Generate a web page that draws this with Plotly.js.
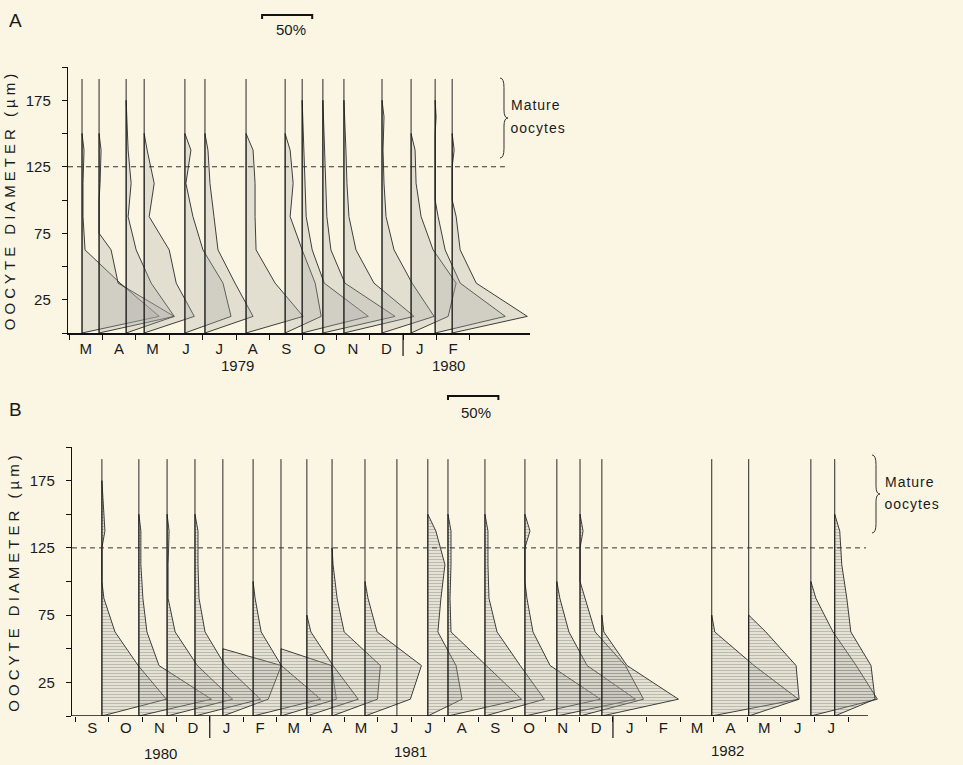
<!DOCTYPE html>
<html>
<head>
<meta charset="utf-8">
<script src="https://cdn.plot.ly/plotly-3.0.1.min.js"></script>
<style>
  html, body { margin: 0; padding: 0; background: #fbf6e4; }
  #chart { width: 963px; height: 765px; }
</style>
</head>
<body>
<div id="chart"></div>
<script>
// ---------------- DATA ----------------
// Oocyte size classes (25 µm wide), class mid-points in µm
const CLASS_MID = [12.5, 37.5, 62.5, 87.5, 112.5, 137.5, 162.5, 187.5];
const HALF_CLASS = 12.5;
const MATURE_DIAM = 125;          // boundary of "mature oocytes"
const SCALE_BAR_PCT = 50;         // scale bar: 50 %

// Panel A: March 1979 – February 1980 (x = months since 1 March 1979)
const monthLabelsA = ['M','A','M','J','J','A','S','O','N','D','J','F'];
const yearLabelsA = ['1979', '1980'];
const sampleMonthA = [0.39, 0.90, 1.71, 2.25, 3.47, 4.07, 5.30, 6.47, 6.98, 7.60, 8.23, 9.37, 10.24, 10.96, 11.47];
// percent frequency in each size class (12.5 … 187.5 µm)
const pctA = [
  [77, 38,  3,  1,  1,  2, 0, 0],
  [75, 19, 12,  0,  1,  2, 0, 0],
  [48, 25, 10,  2,  5,  2, 1, 0],
  [50, 32, 25,  5, 10,  3, 0, 0],
  [46, 38, 18,  8,  1,  6, 0, 0],
  [48, 30, 13,  9,  5,  3, 0, 0],
  [57, 29, 10,  9,  9,  7, 0, 0],
  [36, 30, 17,  5,  8,  5, 0, 0],
  [66, 22, 10,  4,  3,  2, 1, 0],
  [72, 22,  8,  4,  3,  2, 1, 0],
  [70, 30, 12,  5,  3,  2, 1, 0],
  [52, 30, 12,  4,  2,  1, 2, 0],
  [37, 45, 22, 10,  5,  4, 0, 0],
  [70, 25, 10,  3,  0,  0, 1, 0],
  [75, 24,  8,  4,  0,  2, 0, 0]
];

// Panel B: September 1980 – July 1982 (x = months since 1 September 1980)
const monthLabelsB = ['S','O','N','D','J','F','M','A','M','J','J','A','S','O','N','D','J','F','M','A','M','J','J'];
const yearLabelsB = ['1980', '1981', '1982'];
const sampleMonthB = [0.79, 1.89, 2.73, 3.56, 4.39, 5.29, 6.12, 6.89, 7.64, 8.62, 9.57, 10.49, 11.09, 12.19, 13.38, 14.33, 15.02, 15.67, 18.94, 20.04, 21.89, 22.60];
const pctB = [
  [64, 36, 13,  2,  0,  3, 1, 0],
  [72, 20,  8,  4,  2,  2, 0, 0],
  [65, 30,  8,  1,  1,  2, 0, 0],
  [65, 30, 10,  4,  3,  3, 0, 0],
  [45, 58,  0,  0,  0,  0, 0, 0],
  [67, 28,  8,  2,  0,  0, 0, 0],
  [55, 50,  0,  0,  0,  0, 0, 0],
  [51, 26,  4,  0,  0,  0, 0, 0],
  [45, 48, 12,  5,  1,  0, 0, 0],
  [45, 56, 12,  3,  0,  0, 0, 0],
  [ 0,  0,  0,  0,  0,  0, 0, 0],
  [34, 28, 10, 13, 17,  8, 0, 0],
  [73, 38,  3,  2,  3,  3, 0, 0],
  [59, 35, 12,  4,  3,  3, 0, 0],
  [75, 25,  8,  2,  0,  5, 0, 0],
  [78, 30, 12,  3,  0,  0, 0, 0],
  [63, 45, 15,  5,  0,  3, 0, 0],
  [76, 25,  2,  0,  0,  0, 0, 0],
  [86, 42,  3,  0,  0,  0, 0, 0],
  [50, 47, 17,  0,  0,  0, 0, 0],
  [66, 45, 22,  5,  0,  0, 0, 0],
  [40, 36, 16, 12,  7,  5, 0, 0]
];

// ---------------- STYLE / SCALES ----------------
const BG = '#fbf6e4';
const INK = '#1a1a1a';
const FONT = 'Liberation Sans, Arial, Helvetica, sans-serif';
const PCT_TO_MONTH = 0.03;   // 50 % drawn as 1.5 month widths (scale bar)
const LINE_TOP = 191;        // top of each sample's vertical line (µm)
const W = 963, H = 765;
const px = v => v / W;
const py = v => 1 - v / H;

// ---------------- TRACES ----------------
function kite(t, pcts, xa, ya, panelB) {
  let last = pcts.length - 1;
  while (last >= 0 && pcts[last] === 0) last--;
  if (last < 0) return null;
  const xs = [t], ys = [0];
  for (let i = 0; i <= last; i++) {
    const v = pcts[i], mid = CLASS_MID[i];
    if (v > 0) { xs.push(t + v * PCT_TO_MONTH); ys.push(mid); }
    else {
      if (i > 0 && pcts[i - 1] > 0) { xs.push(t); ys.push(mid - HALF_CLASS); }
      if (i < last && pcts[i + 1] > 0) { xs.push(t); ys.push(mid + HALF_CLASS); }
    }
  }
  xs.push(t); ys.push(CLASS_MID[last] + HALF_CLASS);
  xs.push(t); ys.push(0);
  const tr = {
    type: 'scatter', mode: 'lines', x: xs, y: ys, xaxis: xa, yaxis: ya,
    fill: 'toself', fillcolor: 'rgba(170,170,165,0.30)',
    line: { color: '#2a2a2a', width: 0.9 }, hoverinfo: 'skip'
  };
  if (panelB) {
    tr.fillpattern = { shape: '-', fgcolor: '#6a6a6a', fgopacity: 0.5, bgcolor: 'rgba(170,170,165,0.28)', size: 3, solidity: 0.22 };
  }
  return tr;
}

function sampleLines(months, xa, ya) {
  const xs = [], ys = [];
  months.forEach(t => { xs.push(t, t, null); ys.push(0, LINE_TOP, null); });
  return { type: 'scatter', mode: 'lines', x: xs, y: ys, xaxis: xa, yaxis: ya,
           line: { color: '#111', width: 0.9 }, hoverinfo: 'skip' };
}

const traces = [];
sampleMonthA.forEach((t, i) => { const k = kite(t, pctA[i], 'x', 'y', false); if (k) traces.push(k); });
traces.push(sampleLines(sampleMonthA, 'x', 'y'));
sampleMonthB.forEach((t, i) => { const k = kite(t, pctB[i], 'x2', 'y2', true); if (k) traces.push(k); });
traces.push(sampleLines(sampleMonthB, 'x2', 'y2'));

// ---------------- AXES ----------------
function monthAxis(labels, domain, range, anchor, showLine) {
  return {
    domain: domain, range: range, anchor: anchor,
    showline: showLine, linecolor: '#111', linewidth: 1.6, zeroline: false, showgrid: false,
    tickmode: 'array', tickvals: labels.map((_, i) => i + 0.5), ticktext: labels,
    ticks: '', ticklabelstandoff: 1,
    tickfont: { family: FONT, size: 15, color: INK },
    minor: { ticks: 'outside', ticklen: 5, tickwidth: 1, tickcolor: '#111',
             tickmode: 'array', tickvals: labels.map((_, i) => i).concat([labels.length]), showgrid: false }
  };
}
function diamAxis(domain, anchor) {
  return {
    domain: domain, range: [0, 200], anchor: anchor,
    showline: true, linecolor: '#111', linewidth: 1.2, zeroline: false, showgrid: false,
    tickmode: 'array', tickvals: [25, 75, 125, 175],
    ticks: 'outside', ticklen: 5, tickwidth: 1, tickcolor: '#111', ticklabelstandoff: 8,
    tickfont: { family: FONT, size: 15, color: INK },
    minor: { ticks: 'outside', ticklen: 5, tickwidth: 1, tickcolor: '#111', tick0: 0, dtick: 25, showgrid: false },
    title: { text: 'OOCYTE DIAMETER (µm)', font: { family: FONT, size: 15, color: INK }, standoff: 6 }
  };
}

// ---------------- DECORATIONS ----------------
function bracePath(xl, yt, yb, w) {
  const X = v => px(v).toFixed(5), Y = v => py(v).toFixed(5);
  const ym = (yt + yb) / 2, xm = xl + w / 2, xr = xl + w, h = yb - yt;
  return `M${X(xl)},${Y(yt)} Q${X(xm)},${Y(yt)} ${X(xm)},${Y(yt + h * 0.12)} ` +
         `L${X(xm)},${Y(ym - h * 0.1)} Q${X(xm)},${Y(ym)} ${X(xr)},${Y(ym)} ` +
         `Q${X(xm)},${Y(ym)} ${X(xm)},${Y(ym + h * 0.1)} L${X(xm)},${Y(yb - h * 0.12)} ` +
         `Q${X(xm)},${Y(yb)} ${X(xl)},${Y(yb)}`;
}
function scaleBar(xref, x0, yTop, yEnd) {
  const x1 = x0 + SCALE_BAR_PCT * PCT_TO_MONTH;
  return { type: 'path', xref: xref, yref: 'paper',
           path: `M${x0},${yEnd} L${x0},${yTop} L${x1},${yTop} L${x1},${yEnd}`,
           line: { color: '#111', width: 2 } };
}
const dashStyle = { color: '#333', width: 1, dash: '5px,4px' };
const B_END = 23.59;   // right end of panel B's month axis

const shapes = [
  { type: 'line', xref: 'x', yref: 'y', x0: -0.03, x1: 13.05, y0: MATURE_DIAM, y1: MATURE_DIAM, line: dashStyle },
  { type: 'line', xref: 'x2', yref: 'y2', x0: -0.1, x1: 23.53, y0: MATURE_DIAM, y1: MATURE_DIAM, line: dashStyle },
  // panel B baseline (axis shorter than the plotting area, so kites may overhang)
  { type: 'line', xref: 'x2', yref: 'y2', x0: -0.1, x1: B_END, y0: 0, y1: 0, line: { color: '#111', width: 1.6 } },
  // year dividers
  { type: 'line', xref: 'x', yref: 'paper', x0: 10, x1: 10, y0: py(333), y1: py(356), line: { color: '#111', width: 1.2 } },
  { type: 'line', xref: 'x2', yref: 'paper', x0: 4, x1: 4, y0: py(716), y1: py(738), line: { color: '#111', width: 1.2 } },
  { type: 'line', xref: 'x2', yref: 'paper', x0: 16, x1: 16, y0: py(716), y1: py(738), line: { color: '#111', width: 1.2 } },
  // scale bars
  scaleBar('x', 5.78, py(15), py(19)),
  scaleBar('x2', 11.09, py(396), py(400)),
  // braces
  { type: 'path', xref: 'paper', yref: 'paper', path: bracePath(500, 78, 158, 8), line: { color: '#333', width: 1 } },
  { type: 'path', xref: 'paper', yref: 'paper', path: bracePath(872, 455, 533, 8), line: { color: '#333', width: 1 } }
];

const txt = (text, x, y, xref, size, xanchor) => ({
  text: text, x: x, y: y, xref: xref, yref: 'paper', showarrow: false,
  xanchor: xanchor || 'center', yanchor: 'middle',
  font: { family: FONT, size: size || 15, color: INK }
});
const annotations = [
  txt('A', px(15), py(20), 'paper', 19),
  txt('B', px(15), py(409), 'paper', 19),
  txt('50%', 6.64, py(30), 'x', 15),
  txt('50%', 11.92, py(412), 'x2', 15),
  txt('Mature', px(512), py(105), 'paper', 14, 'left'),
  txt('oocytes', px(512), py(128), 'paper', 14, 'left'),
  txt('Mature', px(886), py(482), 'paper', 14, 'left'),
  txt('oocytes', px(886), py(504), 'paper', 14, 'left'),
  txt(yearLabelsA[0], 5.03, py(365), 'x', 15),
  txt(yearLabelsA[1], 11.35, py(365), 'x', 15),
  txt(yearLabelsB[0], 2.52, py(753), 'x2', 15),
  txt(yearLabelsB[1], 9.96, py(751), 'x2', 15),
  txt(yearLabelsB[2], 19.4, py(750), 'x2', 15)
];

const layout = {
  width: W, height: H, margin: { l: 0, r: 0, t: 0, b: 0 },
  paper_bgcolor: BG, plot_bgcolor: 'rgba(0,0,0,0)', showlegend: false,
  font: { family: FONT, color: INK, size: 15 },
  xaxis: monthAxis(monthLabelsA, [px(68), px(530)], [-0.03, 13.8], 'y', true),
  yaxis: diamAxis([1 - 333 / H, 1 - 67 / H], 'x'),
  xaxis2: monthAxis(monthLabelsB, [px(72), px(890)], [-0.1, -0.1 + (890 - 72) / 33.6], 'y2', false),
  yaxis2: diamAxis([1 - 716 / H, 1 - 447 / H], 'x2'),
  shapes: shapes, annotations: annotations
};

Plotly.newPlot('chart', traces, layout, { staticPlot: true, displayModeBar: false }).then(() => {
  document.querySelectorAll('text.ytitle, text.y2title').forEach(t => { t.style.letterSpacing = '4px'; });
  document.querySelectorAll('.annotation-text').forEach(t => {
    if (/Mature|oocytes/.test(t.textContent)) t.style.letterSpacing = '1px';
  });
});
</script>
</body>
</html>
